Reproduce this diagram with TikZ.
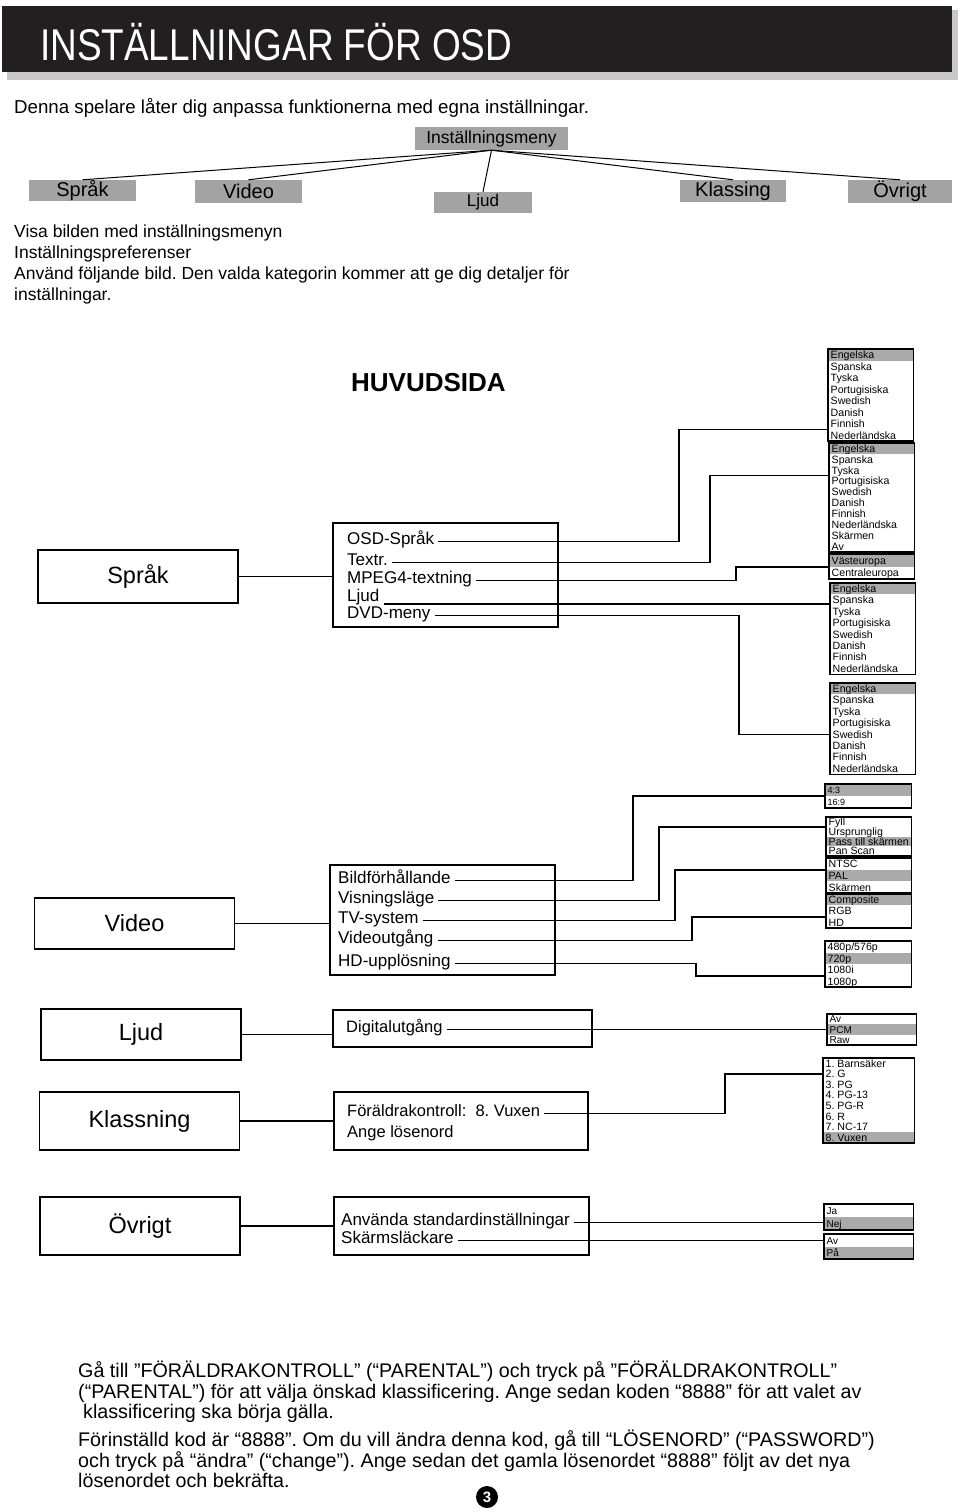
\documentclass[tikz,border=0pt]{standalone}
\usepackage{fontspec}
\setmainfont{Liberation Sans}
\newfontfamily\narrowfont{Liberation Sans}[FakeStretch=0.83]
\frenchspacing
\definecolor{bandblack}{RGB}{35,31,32}
\definecolor{shadowgray}{RGB}{200,200,200}
\definecolor{menugray}{RGB}{163,163,163}
\definecolor{optgray}{RGB}{170,170,170}
\usetikzlibrary{positioning}

\tikzset{
  txt/.style={anchor=base west, inner sep=0pt},
  menubox/.style={fill=menugray, inner sep=0pt, font=\fontsize{20}{22}\selectfont},
  mainbox/.style={draw, line width=1.8pt, minimum width=200, minimum height=52, font=\fontsize{23.5}{26}\selectfont},
  subbox/.style={draw, line width=1.8pt},
  subitem/.style={anchor=base west, inner xsep=4pt, inner ysep=0pt, text height=0.75em, text depth=0.25em, font=\fontsize{17}{20}\selectfont},
  optrow/.style={anchor=west, inner xsep=2.5pt, inner ysep=0pt, text height=8.4pt, text depth=0.8pt},
  listframe/.style={line width=1.7pt},
  conn/.style={line width=1.6pt},
  menuline/.style={line width=1pt},
}

% option list: [font] name, left x, top y, width, row height, selected row, items
\newcommand{\optlist}[8][\fontsize{10.6}{11}\selectfont]{%
  \pgfmathsetmacro{\rowtw}{#5-5}
  \foreach \t [count=\i] in {#8} {
    \ifnum\i=#7\relax \def\f{optgray}\else \def\f{white}\fi
    \node [optrow, fill=\f, font=#1, minimum height=#6, minimum width=#5]
      (#2\i) at (#3, #4+#6*\i-#6/2) {\makebox[\rowtw pt][l]{\t}};
    \xdef\nrows{\i}
  }
  \draw [listframe] (#21.north west) rectangle (#2\nrows.south east);
}

\begin{document}
\begin{tikzpicture}[x=1pt, y=-1pt]
  \useasboundingbox (0,0) rectangle (960,1512);

  % title band
  \fill [shadowgray] (7,10) rectangle (958,80);
  \fill [bandblack] (2,6) rectangle (952,72);
  \node [txt, text=white, font=\narrowfont\fontsize{44.5}{48}\selectfont] (title) at (40,61) {INSTÄLLNINGAR FÖR OSD};
  \node [txt, font=\fontsize{18.7}{22}\selectfont] (intro) at (14,113) {Denna spelare låter dig anpassa funktionerna med egna inställningar.};

  % settings menu tree
  \node [menubox, minimum width=153, minimum height=23, font=\fontsize{17.5}{20}\selectfont] (meny) at (491.5,138.5) {Inställningsmeny};
  \node [menubox, minimum width=107, minimum height=21] (msprak) at (82.5,190.5) {Språk};
  \node [menubox, minimum width=107, minimum height=23] (mvideo) at (248.5,191.5) {Video};
  \node [menubox, minimum width=98, minimum height=21, font=\fontsize{17}{20}\selectfont] (mljud) at (483,202.5) {Ljud};
  \node [menubox, minimum width=106, minimum height=22] (mklass) at (733,191) {Klassing};
  \node [menubox, minimum width=104, minimum height=23] (movrigt) at (900,191.5) {Övrigt};
  \foreach \m in {msprak,mvideo,mljud,mklass,movrigt}
    \draw [menuline] (meny.south) -- (\m.north);

  \foreach \t [count=\i] in {Visa bilden med inställningsmenyn,Inställningspreferenser,Använd följande bild. Den valda kategorin kommer att ge dig detaljer för,inställningar.}
    \node [txt, font=\fontsize{17.5}{20}\selectfont] (visa\i) at (14,215.7+21.3*\i) {\t};

  \node [txt, font=\bfseries\fontsize{26}{30}\selectfont] (huvud) at (351,391) {HUVUDSIDA};

  % Språk
  \node [mainbox, minimum height=53] (sprak) at (138,576.5) {Språk};
  \node [subbox, minimum width=225, minimum height=104] (sprakmenu) at (445.5,575) {};
  \draw [conn] (sprak.east) -- (sprak.east -| sprakmenu.west);
  \node [subitem] (osd) at (343,544) {OSD-Språk};
  \node [subitem] (textr) at (343,565) {Textr.};
  \node [subitem] (mpeg) at (343,583) {MPEG4-textning};
  \node [subitem] (ljudsp) at (343,601) {Ljud};
  \node [subitem] (dvd) at (343,618) {DVD-meny};

  \optlist{osdl}{828}{349}{85}{11.5}{1}{Engelska,Spanska,Tyska,Portugisiska,Swedish,Danish,Finnish,Nederländska}
  \optlist{subl}{829}{443}{85}{10.9}{1}{Engelska,Spanska,Tyska,Portugisiska,Swedish,Danish,Finnish,Nederländska,Skärmen,Av}
  \optlist{mpegl}{829}{554}{85}{12.5}{1}{Västeuropa,Centraleuropa}
  \optlist{audl}{830}{583}{85}{11.4}{1}{Engelska,Spanska,Tyska,Portugisiska,Swedish,Danish,Finnish,Nederländska}
  \optlist{dvdl}{830}{683}{85}{11.4}{1}{Engelska,Spanska,Tyska,Portugisiska,Swedish,Danish,Finnish,Nederländska}

  \draw [conn] (osd.east) -- (osd.east -| 679,0) |- (osdl8.north west);
  \draw [conn] (textr.east) -- (textr.east -| 710,0) |- (subl4.north west);
  \draw [conn] (mpeg.east) -- (mpeg.east -| 736,0) |- (mpegl1.south west);
  \draw [conn] (ljudsp.south east) -- (ljudsp.south east -| audl2.west);
  \draw [conn] (dvd.east) -- (dvd.east -| 739,0) |- (dvdl5.west);

  % Video
  \node [mainbox, minimum height=51] (video) at (134.5,923.5) {Video};
  \node [subbox, minimum width=225, minimum height=110] (videomenu) at (442.5,920) {};
  \draw [conn] (video.east) -- (video.east -| videomenu.west);
  \node [subitem] (bild) at (334,883) {Bildförhållande};
  \node [subitem] (visn) at (334,903) {Visningsläge};
  \node [subitem] (tvs) at (334,923) {TV-system};
  \node [subitem] (vout) at (334,943) {Videoutgång};
  \node [subitem] (hdup) at (334,966) {HD-upplösning};

  \optlist[\fontsize{9}{9}\selectfont]{aspl}{825}{784}{86}{12}{1}{4:3,16:9}
  \optlist{displ}{826}{817}{85}{9.75}{3}{Fyll,Ursprunglig,Pass till skärmen,Pan Scan}
  \optlist{tvl}{826}{858}{85}{11.7}{2}{NTSC,PAL,Skärmen}
  \optlist{voutl}{826}{894}{85}{11.3}{1}{Composite,RGB,HD}
  \optlist{hdl}{825}{941}{86}{11.5}{2}{480p/576p,720p,1080i,1080p}

  \draw [conn] (bild.east) -- (bild.east -| 633,0) |- (aspl1.south west);
  \draw [conn] (visn.east) -- (visn.east -| 659,0) |- (displ1.south west);
  \draw [conn] (tvs.east) -- (tvs.east -| 675,0) |- (tvl1.south west);
  \draw [conn] (vout.east) -- (vout.east -| 692,0) |- (voutl2.south west);
  \draw [conn] (hdup.east) -- (hdup.east -| 696,0) |- (hdl3.south west);

  % Ljud
  \node [mainbox, minimum height=51] (ljud) at (141,1034.5) {Ljud};
  \node [subbox, minimum width=259, minimum height=37] (ljudmenu) at (462.5,1028.5) {};
  \draw [conn] (ljud.east) -- (ljud.east -| ljudmenu.west);
  \node [subitem, font=\fontsize{16.5}{20}\selectfont] (digut) at (342,1032) {Digitalutgång};
  \optlist[\fontsize{10}{10}\selectfont]{digl}{827}{1014}{89}{10.3}{2}{Av,PCM,Raw}
  \draw [conn] (digut.east) -- (digut.east -| digl2.west);

  % Klassning
  \node [mainbox, minimum height=58] (klass) at (139.5,1121) {Klassning};
  \node [subbox, minimum width=254, minimum height=58] (klassmenu) at (461,1121) {};
  \draw [conn] (klass.east) -- (klass.east -| klassmenu.west);
  \node [subitem, font=\fontsize{16.5}{20}\selectfont] (foral) at (343,1116) {Föräldrakontroll:~ 8. Vuxen};
  \node [subitem, font=\fontsize{16.5}{20}\selectfont] (ange) at (343,1137) {Ange lösenord};
  \optlist{ratel}{823}{1058}{91}{10.6}{8}{1. Barnsäker,2. G,3. PG,4. PG-13,5. PG-R,6. R,7. NC-17,8. Vuxen}
  \draw [conn] (foral.east) -- (foral.east -| 725,0) |- (ratel2.west);

  % Övrigt
  \node [mainbox, minimum height=58] (ovrigt) at (140,1226) {Övrigt};
  \node [subbox, minimum width=255, minimum height=58] (ovrigtmenu) at (461.5,1226) {};
  \draw [conn] (ovrigt.east) -- (ovrigt.east -| ovrigtmenu.west);
  \node [subitem] (stand) at (337,1225) {Använda standardinställningar};
  \node [subitem] (skarm) at (337,1243) {Skärmsläckare};
  \optlist[\fontsize{10}{10}\selectfont]{janej}{824}{1204}{89}{13}{2}{Ja,Nej}
  \optlist[\fontsize{10}{10}\selectfont]{avpa}{824}{1234}{89}{12.5}{2}{Av,På}
  \draw [conn] (stand.east) -- (stand.east -| janej1.west);
  \draw [conn] (skarm.east) -- (skarm.east -| avpa1.west);

  % notes at the bottom
  \foreach \x/\y/\t [count=\i] in {78/1377/{Gå till ”FÖRÄLDRAKONTROLL” (“PARENTAL”) och tryck på ”FÖRÄLDRAKONTROLL”},
      78/1398/{(“PARENTAL”) för att välja önskad klassificering. Ange sedan koden “8888” för att valet av},
      83/1418/{klassificering ska börja gälla.},
      78/1446/{Förinställd kod är “8888”. Om du vill ändra denna kod, gå till “LÖSENORD” (“PASSWORD”)},
      78/1467/{och tryck på “ändra” (“change”). Ange sedan det gamla lösenordet “8888” följt av det nya},
      78/1487/{lösenordet och bekräfta.}}
    \node [txt, font=\fontsize{19.7}{22}\selectfont] (note\i) at (\x,\y) {\t};

  \node [circle, fill=black, text=white, minimum size=22, inner sep=0pt, font=\bfseries\fontsize{15}{16}\selectfont] (page) at (487,1497) {3};
\end{tikzpicture}
\end{document}
